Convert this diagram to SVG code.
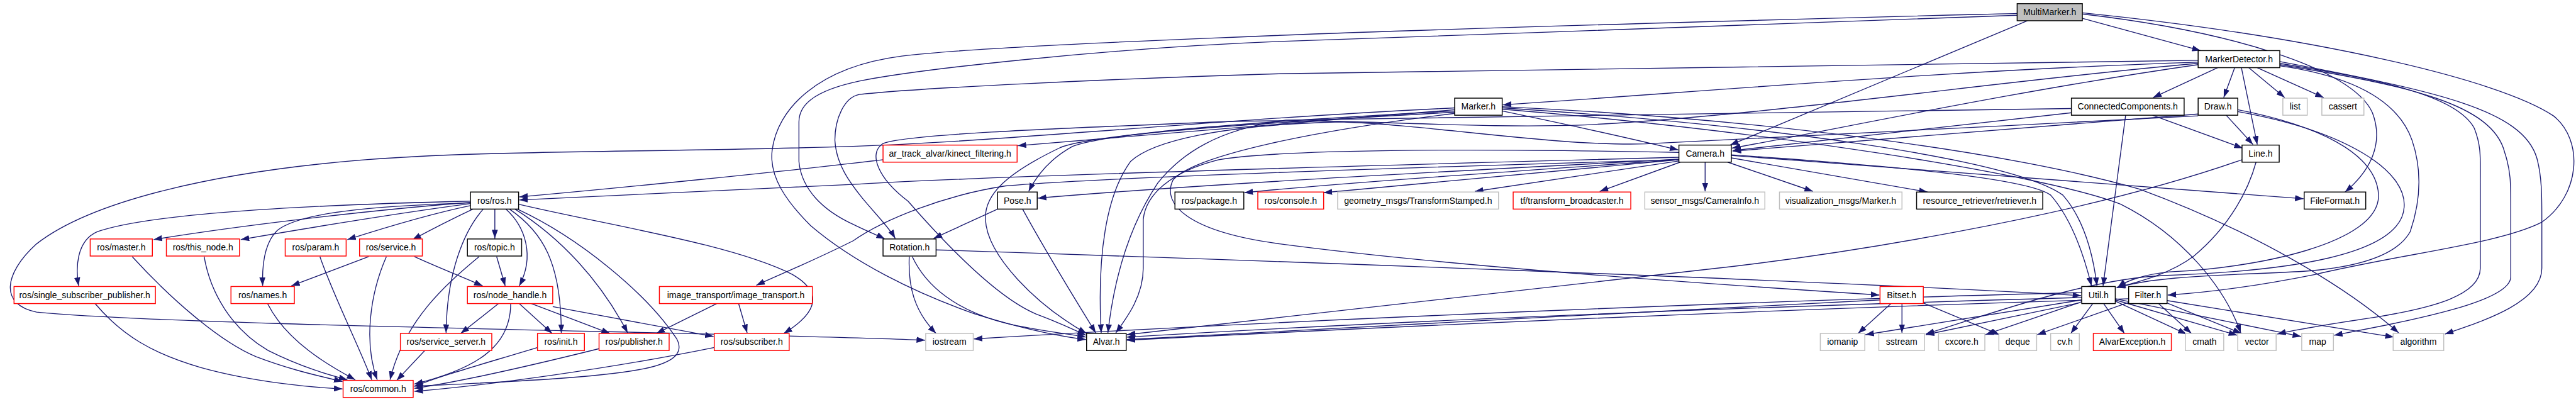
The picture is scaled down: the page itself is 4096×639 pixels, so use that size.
<svg xmlns="http://www.w3.org/2000/svg" width="4096" height="639" viewBox="0 0 4096 639">
<style>
rect{fill:#ffffff;stroke-width:1.5}
.b{stroke:#000000}
.r{stroke:#ff0000}
.g{stroke:#bfbfbf}
text{font-family:"Liberation Sans",Arial,sans-serif;font-size:14.5px;text-anchor:middle;fill:#000000}
#edges path{fill:none;stroke:#191970;stroke-width:1.4;marker-end:url(#arr)}
</style>
<defs>
<marker id="arr" markerWidth="14" markerHeight="10" refX="14" refY="5" orient="auto" markerUnits="userSpaceOnUse">
<path d="M0,0 L14,5 L0,10 z" fill="#191970"/>
</marker>
</defs>
<rect x="0" y="0" width="4096" height="639" style="fill:#ffffff;stroke:none"/>
<g transform="scale(0.969)">
<g id="edges">
<path d="M772,330 C600,334 260,345 160,380 C125,395 124,440 129,469"/>
<path d="M772,332 C600,345 380,372 252,393"/>
<path d="M772,334 C650,350 500,375 395,393"/>
<path d="M772,333 C600,338 490,350 455,378 C432,400 430,440 431,469"/>
<path d="M773,337 C700,352 620,377 570,393"/>
<path d="M776,343 C740,360 705,378 677,393"/>
<path d="M812,343 L812,391"/>
<path d="M830,343 C862,372 878,420 852,469"/>
<path d="M793,343 C760,380 733,450 732,546"/>
<path d="M836,343 C890,380 921,430 921,546"/>
<path d="M845,343 C920,390 985,460 1030,546"/>
<path d="M851,335 C1000,370 1200,400 1300,450 C1360,485 1330,520 1286,547"/>
<path d="M849,343 C950,390 1060,480 1110,555 C1135,600 1050,612 900,622 C800,628 720,632 680,633"/>
<path d="M605,421 L478,469"/>
<path d="M634,421 C608,480 596,560 619,623"/>
<path d="M680,421 C710,435 760,455 792,469"/>
<path d="M525,421 C545,480 590,570 610,623"/>
<path d="M217,421 C280,490 360,560 420,585 C480,608 530,618 562,626"/>
<path d="M335,421 C345,480 380,540 440,575 C500,605 548,617 570,623"/>
<path d="M439,498 C470,560 540,600 583,623"/>
<path d="M156,498 C200,550 250,580 330,603 C420,628 520,636 562,638"/>
<path d="M815,421 L829,469"/>
<path d="M786,421 C740,460 665,520 640,623"/>
<path d="M818,498 L756,547"/>
<path d="M852,498 L906,547"/>
<path d="M872,498 L1001,547"/>
<path d="M907,503 L1171,552"/>
<path d="M838,498 C838,570 780,605 680,630"/>
<path d="M697,575 L651,624"/>
<path d="M882,570 C800,595 720,617 680,634"/>
<path d="M983,572 C850,605 750,627 680,637"/>
<path d="M1172,570 C1000,605 800,632 680,642"/>
<path d="M1176,498 L1077,547"/>
<path d="M1212,498 L1226,546"/>
<path d="M1449,262 C1300,280 1000,310 852,323"/>
<path d="M2755,258 C2300,270 1600,290 1410,302 C1200,312 950,322 852,328"/>
<path d="M2387,177 C2000,195 1650,232 1400,240 C1100,250 800,246 600,262 C350,282 150,330 60,400 C5,450 0,500 60,512 C300,535 1200,545 1518,558"/>
<path d="M2387,180 C2100,205 1850,225 1670,239"/>
<path d="M2387,182 C2050,200 1820,218 1760,240 C1720,262 1700,290 1688,314"/>
<path d="M2387,184 C2100,200 1800,218 1740,242 C1650,285 1615,320 1617,360 C1620,420 1700,500 1783,547"/>
<path d="M2465,182 C2600,210 2700,233 2754,246"/>
<path d="M2465,177 C2900,205 3300,260 3385,320 C3420,360 3435,420 3441,469"/>
<path d="M2465,179 C2900,215 3350,285 3480,335 C3580,385 3650,470 3677,546"/>
<path d="M2465,175 C2900,195 3300,250 3510,310 C3700,380 3850,470 3936,546"/>
<path d="M2387,186 C2150,215 1960,255 1925,295 C1905,335 1950,380 2100,400 C2400,440 2900,472 3084,484"/>
<path d="M3417,30 L3611,83"/>
<path d="M3327,34 L2839,238"/>
<path d="M3417,23 C3650,50 3860,110 3893,185 C3912,235 3890,280 3848,315"/>
<path d="M3417,21 C3800,60 4100,130 4190,190 C4240,230 4235,320 4170,365 C4100,400 3950,415 3800,450 C3700,470 3620,480 3557,484"/>
<path d="M3310,22 C3000,30 2400,45 2000,62 C1750,72 1560,82 1480,92 C1340,110 1275,180 1267,247 C1262,290 1290,330 1330,370 C1400,430 1500,480 1600,515 C1680,540 1740,552 1782,557"/>
<path d="M3310,25 C3000,35 2500,55 2100,68 C1800,80 1500,115 1410,133 C1330,150 1311,175 1311,200 L1311,265 C1315,310 1350,345 1400,368 C1420,378 1440,386 1452,392"/>
<path d="M3607,99 C3200,105 2500,115 2100,121 C1800,130 1500,145 1410,155 C1385,160 1370,195 1370,230 C1372,270 1395,300 1415,325 C1440,355 1458,372 1469,391"/>
<path d="M3607,102 C3200,115 2800,150 2466,172"/>
<path d="M3607,106 C3300,150 3000,215 2842,243"/>
<path d="M3639,111 L3533,160"/>
<path d="M3667,111 L3649,160"/>
<path d="M3678,111 L3704,237"/>
<path d="M3690,111 L3749,160"/>
<path d="M3704,111 L3813,160"/>
<path d="M3741,104 C3900,130 4030,155 4060,210 C4072,240 4070,260 4070,300 L4070,440 C4070,485 3990,505 3900,520 C3820,532 3770,540 3737,548"/>
<path d="M3741,106 C3950,140 4090,170 4110,250 C4120,280 4120,300 4120,340 L4120,454 C4120,495 3960,525 3830,550"/>
<path d="M3741,101 C4000,150 4140,180 4163,260 C4171,290 4171,320 4171,360 L4171,440 C4171,495 4080,525 4012,548"/>
<path d="M3741,108 C3860,125 3935,165 3958,230 C3975,280 3972,330 3955,380 C3930,425 3850,440 3780,445 C3650,452 3540,452 3474,472"/>
<path d="M3607,104 C3300,130 2900,190 2600,205 C2400,212 2200,192 2000,200 C1750,210 1480,220 1448,236 C1425,252 1440,292 1490,330 C1560,410 1640,490 1700,515 C1740,530 1760,540 1782,550"/>
<path d="M3399,178 C3000,185 2400,190 2110,197 C2000,212 1940,250 1900,300 C1860,360 1830,440 1818,546"/>
<path d="M3399,185 L2843,247"/>
<path d="M3532,189 L3680,243"/>
<path d="M3488,189 L3451,469"/>
<path d="M3653,189 L3697,237"/>
<path d="M3607,187 C3300,210 3000,235 2843,248"/>
<path d="M3607,190 C3300,205 2900,228 2700,236 C2550,240 2350,205 2200,200 C2000,205 1890,232 1855,265 C1815,320 1800,420 1807,546"/>
<path d="M3672,180 C3800,205 3900,250 3903,320 C3905,400 3700,440 3560,446 C3520,450 3490,460 3475,471"/>
<path d="M3672,183 C3850,215 3950,280 3945,340 C3940,420 3750,445 3550,452 C3420,458 3250,520 3160,548"/>
<path d="M2755,250 C2400,243 2100,245 2000,262 C1920,282 1880,320 1876,360 L1876,440 C1876,485 1850,520 1831,546"/>
<path d="M2755,261 C2400,280 2000,300 1703,325"/>
<path d="M2755,262 C2500,280 2200,300 2042,316"/>
<path d="M2755,262 L2172,316"/>
<path d="M2755,264 L2420,314"/>
<path d="M2757,266 L2625,314"/>
<path d="M2798,266 L2798,314"/>
<path d="M2835,266 L2975,314"/>
<path d="M2841,259 L3163,315"/>
<path d="M2841,255 C3200,285 3500,305 3780,326"/>
<path d="M2841,254 C3150,275 3330,295 3365,320 C3400,360 3420,420 3432,469"/>
<path d="M2755,262 C2300,275 1800,292 1650,305 C1550,320 1450,360 1400,395 C1330,430 1280,450 1241,468"/>
<path d="M3679,262 C3400,360 3000,420 2800,442 C2400,490 2000,530 1849,549"/>
<path d="M3702,266 C3690,310 3660,370 3600,420 C3560,450 3510,462 3473,472"/>
<path d="M1637,343 L1532,391"/>
<path d="M1678,343 C1720,420 1770,500 1798,546"/>
<path d="M1492,421 C1490,470 1500,510 1536,547"/>
<path d="M1497,421 C1520,470 1570,510 1650,530 C1700,542 1750,547 1782,553"/>
<path d="M1536,410 C2000,425 3000,460 3415,485"/>
<path d="M3085,492 C2700,510 2200,540 1849,557"/>
<path d="M3103,498 L3049,547"/>
<path d="M3121,498 L3121,546"/>
<path d="M3156,497 L3281,549"/>
<path d="M3416,488 C3000,500 2400,520 1849,553"/>
<path d="M3416,480 C3000,490 2200,520 1598,556"/>
<path d="M3416,492 L3061,549"/>
<path d="M3411,497 L3160,549"/>
<path d="M3416,495 L3258,549"/>
<path d="M3434,498 L3398,547"/>
<path d="M3452,498 L3486,547"/>
<path d="M3471,494 L3588,548"/>
<path d="M3471,492 L3671,550"/>
<path d="M3471,490 L3776,552"/>
<path d="M3493,490 C3000,505 2400,530 1849,558"/>
<path d="M3493,496 L3343,549"/>
<path d="M3542,498 L3596,547"/>
<path d="M3556,497 L3678,547"/>
<path d="M3556,493 L3928,553"/>
</g>
<g id="n_MultiMarker"><rect class="b" x="3310" y="6" width="107" height="28" style="fill:#bfbfbf"/><text x="3363.5" y="25">MultiMarker.h</text></g>
<g id="n_MarkerDetector"><rect class="b" x="3607" y="83" width="134" height="28"/><text x="3674" y="102">MarkerDetector.h</text></g>
<g id="n_Marker"><rect class="b" x="2387" y="161" width="78" height="28"/><text x="2426" y="180">Marker.h</text></g>
<g id="n_CC"><rect class="b" x="3399" y="161" width="185" height="28"/><text x="3491.5" y="180">ConnectedComponents.h</text></g>
<g id="n_Draw"><rect class="b" x="3607" y="161" width="65" height="28"/><text x="3639.5" y="180">Draw.h</text></g>
<g id="n_list"><rect class="g" x="3746" y="161" width="40" height="28"/><text x="3766" y="180">list</text></g>
<g id="n_cassert"><rect class="g" x="3810" y="161" width="69" height="28"/><text x="3844.5" y="180">cassert</text></g>
<g id="n_kinect"><rect class="r" x="1449" y="238" width="220" height="28"/><text x="1559" y="257">ar_track_alvar/kinect_filtering.h</text></g>
<g id="n_Camera"><rect class="b" x="2755" y="238" width="86" height="28"/><text x="2798" y="257">Camera.h</text></g>
<g id="n_Line"><rect class="b" x="3679" y="238" width="61" height="28"/><text x="3709.5" y="257">Line.h</text></g>
<g id="n_rosros"><rect class="b" x="772" y="315" width="79" height="28"/><text x="811.5" y="334">ros/ros.h</text></g>
<g id="n_Pose"><rect class="b" x="1637" y="315" width="65" height="28"/><text x="1669.5" y="334">Pose.h</text></g>
<g id="n_package"><rect class="b" x="1928" y="315" width="113" height="28"/><text x="1984.5" y="334">ros/package.h</text></g>
<g id="n_console"><rect class="r" x="2064" y="315" width="108" height="28"/><text x="2118" y="334">ros/console.h</text></g>
<g id="n_geom"><rect class="g" x="2195" y="315" width="264" height="28"/><text x="2327" y="334">geometry_msgs/TransformStamped.h</text></g>
<g id="n_tf"><rect class="r" x="2483" y="315" width="193" height="28"/><text x="2579.5" y="334">tf/transform_broadcaster.h</text></g>
<g id="n_caminfo"><rect class="g" x="2699" y="315" width="197" height="28"/><text x="2797.5" y="334">sensor_msgs/CameraInfo.h</text></g>
<g id="n_vis"><rect class="g" x="2920" y="315" width="201" height="28"/><text x="3020.5" y="334">visualization_msgs/Marker.h</text></g>
<g id="n_retr"><rect class="b" x="3145" y="315" width="207" height="28"/><text x="3248.5" y="334">resource_retriever/retriever.h</text></g>
<g id="n_FileFormat"><rect class="b" x="3781" y="315" width="101" height="28"/><text x="3831.5" y="334">FileFormat.h</text></g>
<g id="n_master"><rect class="r" x="148" y="392" width="102" height="28"/><text x="199" y="411">ros/master.h</text></g>
<g id="n_thisnode"><rect class="r" x="273" y="392" width="120" height="28"/><text x="333" y="411">ros/this_node.h</text></g>
<g id="n_param"><rect class="r" x="468" y="392" width="100" height="28"/><text x="518" y="411">ros/param.h</text></g>
<g id="n_service"><rect class="r" x="590" y="392" width="103" height="28"/><text x="641.5" y="411">ros/service.h</text></g>
<g id="n_topic"><rect class="b" x="767" y="392" width="89" height="28"/><text x="811.5" y="411">ros/topic.h</text></g>
<g id="n_Rotation"><rect class="b" x="1449" y="392" width="87" height="28"/><text x="1492.5" y="411">Rotation.h</text></g>
<g id="n_ssp"><rect class="r" x="23" y="470" width="232" height="28"/><text x="139" y="489">ros/single_subscriber_publisher.h</text></g>
<g id="n_names"><rect class="r" x="379" y="470" width="104" height="28"/><text x="431" y="489">ros/names.h</text></g>
<g id="n_nodehandle"><rect class="r" x="767" y="470" width="140" height="28"/><text x="837" y="489">ros/node_handle.h</text></g>
<g id="n_it"><rect class="r" x="1082" y="470" width="251" height="28"/><text x="1207.5" y="489">image_transport/image_transport.h</text></g>
<g id="n_Bitset"><rect class="r" x="3085" y="470" width="71" height="28"/><text x="3120.5" y="489">Bitset.h</text></g>
<g id="n_Util"><rect class="b" x="3416" y="470" width="55" height="28"/><text x="3443.5" y="489">Util.h</text></g>
<g id="n_Filter"><rect class="b" x="3493" y="470" width="63" height="28"/><text x="3524.5" y="489">Filter.h</text></g>
<g id="n_ss"><rect class="r" x="657" y="547" width="150" height="28"/><text x="732" y="566">ros/service_server.h</text></g>
<g id="n_init"><rect class="r" x="882" y="547" width="77" height="28"/><text x="920.5" y="566">ros/init.h</text></g>
<g id="n_pub"><rect class="r" x="983" y="547" width="115" height="28"/><text x="1040.5" y="566">ros/publisher.h</text></g>
<g id="n_sub"><rect class="r" x="1172" y="547" width="123" height="28"/><text x="1233.5" y="566">ros/subscriber.h</text></g>
<g id="n_iostream"><rect class="g" x="1519" y="547" width="78" height="28"/><text x="1558" y="566">iostream</text></g>
<g id="n_Alvar"><rect class="b" x="1783" y="547" width="65" height="28"/><text x="1815.5" y="566">Alvar.h</text></g>
<g id="n_iomanip"><rect class="g" x="2987" y="547" width="73" height="28"/><text x="3023.5" y="566">iomanip</text></g>
<g id="n_sstream"><rect class="g" x="3083" y="547" width="75" height="28"/><text x="3120.5" y="566">sstream</text></g>
<g id="n_cxcore"><rect class="g" x="3181" y="547" width="76" height="28"/><text x="3219" y="566">cxcore.h</text></g>
<g id="n_deque"><rect class="g" x="3280" y="547" width="62" height="28"/><text x="3311" y="566">deque</text></g>
<g id="n_cv"><rect class="g" x="3365" y="547" width="47" height="28"/><text x="3388.5" y="566">cv.h</text></g>
<g id="n_AlvarException"><rect class="r" x="3435" y="547" width="128" height="28"/><text x="3499" y="566">AlvarException.h</text></g>
<g id="n_cmath"><rect class="g" x="3586" y="547" width="63" height="28"/><text x="3617.5" y="566">cmath</text></g>
<g id="n_vector"><rect class="g" x="3672" y="547" width="63" height="28"/><text x="3703.5" y="566">vector</text></g>
<g id="n_map"><rect class="g" x="3777" y="547" width="52" height="28"/><text x="3803" y="566">map</text></g>
<g id="n_algorithm"><rect class="g" x="3927" y="547" width="83" height="28"/><text x="3968.5" y="566">algorithm</text></g>
<g id="n_common"><rect class="r" x="563" y="624" width="115" height="28"/><text x="620.5" y="643">ros/common.h</text></g>
</g>
</svg>
